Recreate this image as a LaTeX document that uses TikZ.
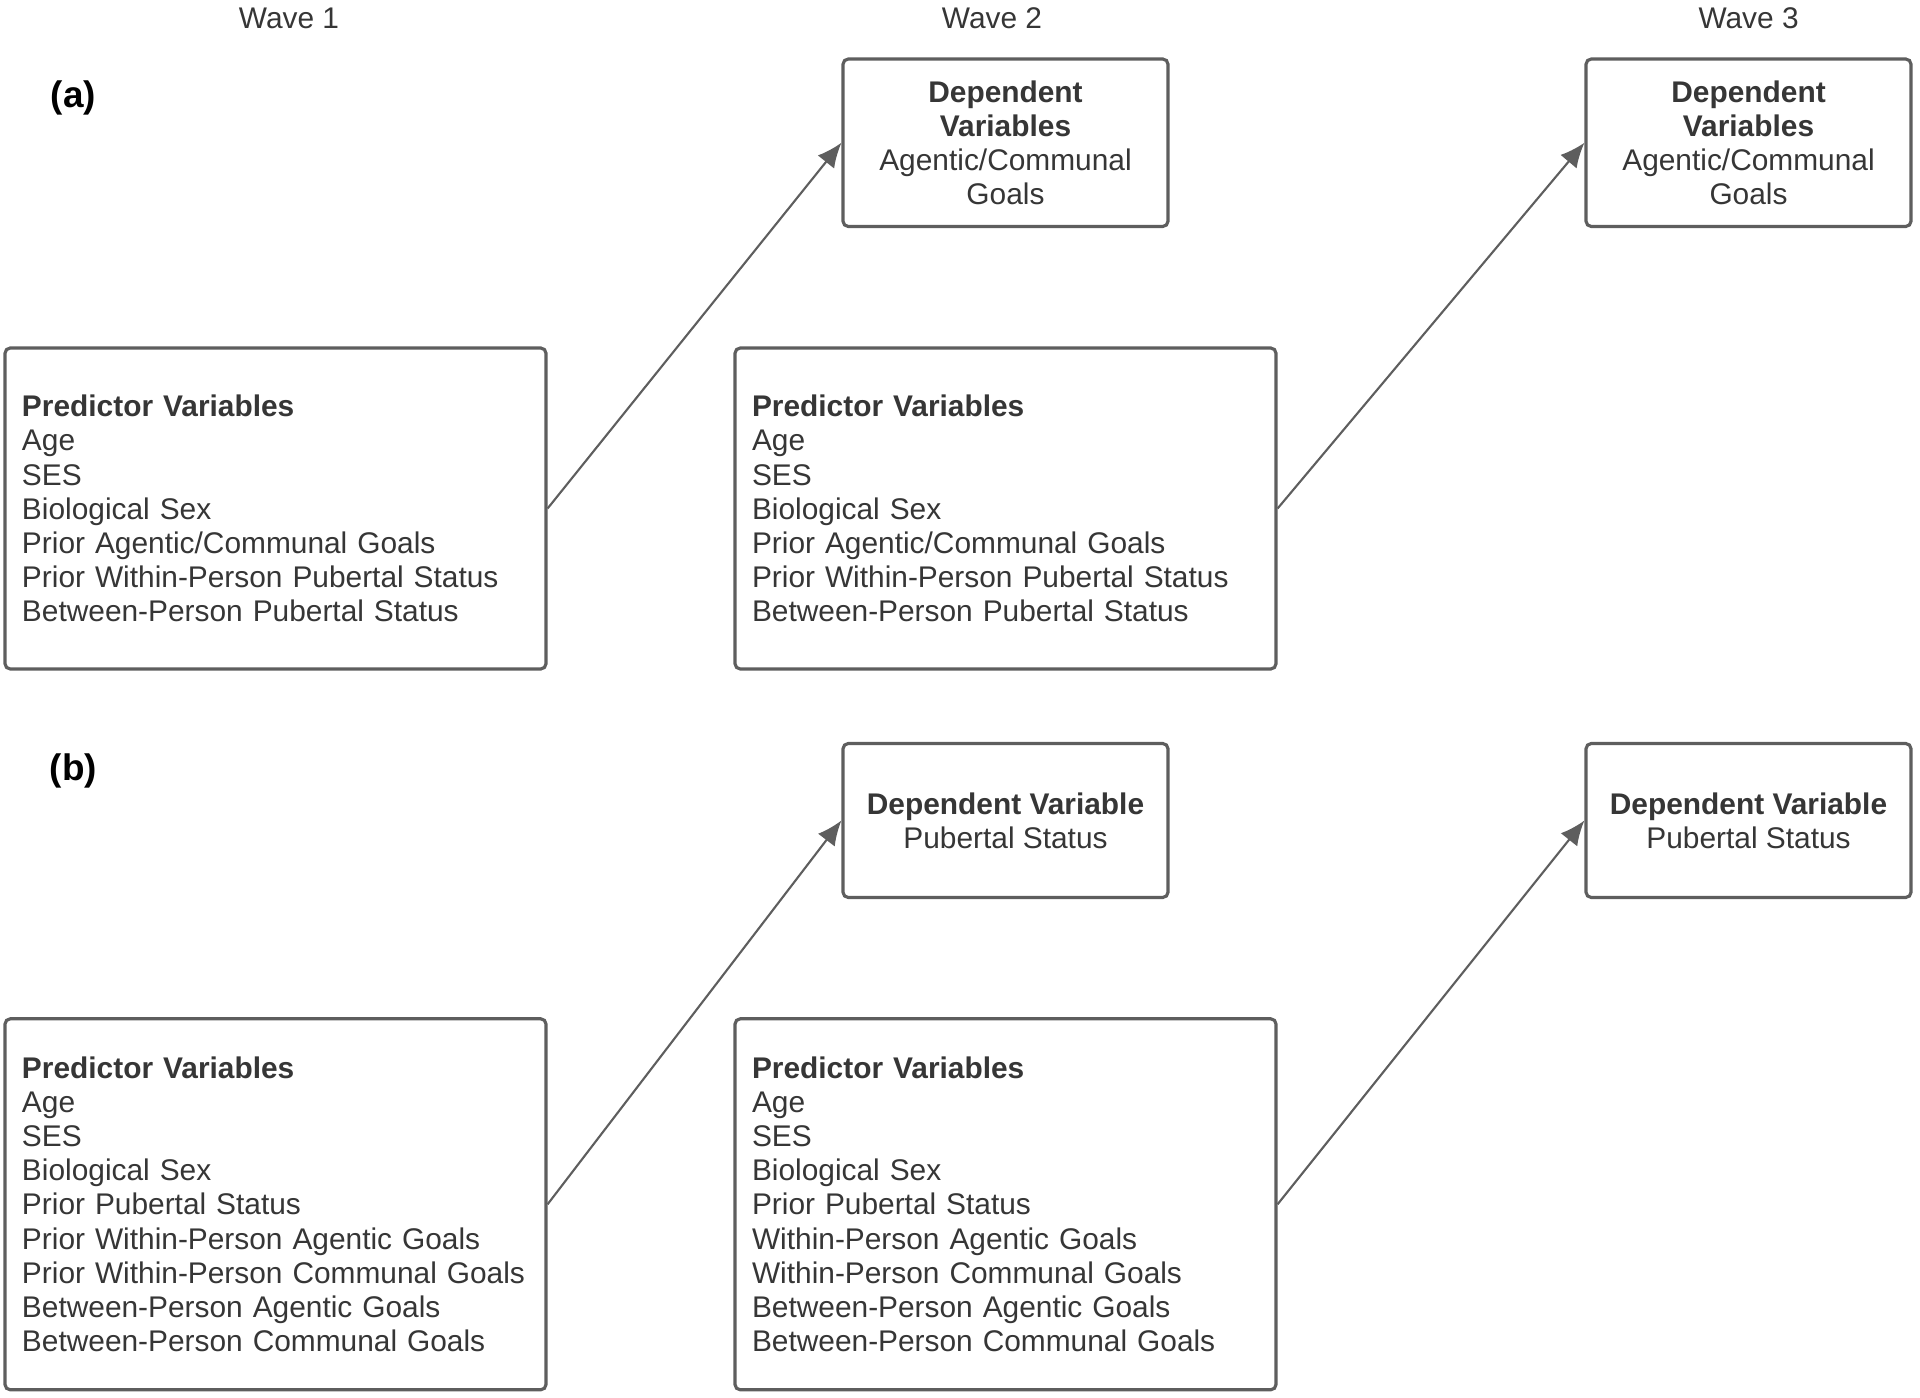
\documentclass[tikz,border=0pt]{standalone}
\usepackage{fontspec}
\setmainfont{Liberation Sans}
\usepackage{tikz}
\usetikzlibrary{positioning}
\usetikzlibrary{calc,arrows.meta}

\definecolor{boxgray}{HTML}{5E5E5E}
\definecolor{textgray}{HTML}{363636}

\begin{document}
\begin{tikzpicture}
	[   pnode/.style={draw=boxgray,line width=0.9pt,rounded corners=1.5pt,fill=white,text=textgray,align=left,text width=5.07cm,inner xsep=0.17cm,minimum height=#1},
	    dnode/.style={draw=boxgray,line width=0.9pt,rounded corners=1.5pt,fill=white,text=textgray,align=center,minimum width=3.25cm,minimum height=#1},
	    font=\fontsize{8.5pt}{9.7pt}\selectfont,
	]
	\tikzset{wave arrow/.style={draw=boxgray,line width=0.6pt,-{Latex[length=7pt,width=6pt]}}}
	\useasboundingbox (0,0) rectangle (19.2,-13.98);
	
	\foreach \x/\n in {2.89/1,9.92/2,17.486/3}
	{
		\node[text=textgray] (w-\n) at (\x,-0.184) {Wave \n};
	}
	
	\node[font=\fontsize{10.5pt}{12pt}\selectfont\bfseries] (lab-a) at (0.735,-0.98) {(a)};
	\node[font=\fontsize{10.5pt}{12pt}\selectfont\bfseries] (lab-b) at (0.735,-7.714) {(b)};
	
	% panel a
	\node[dnode=1.675cm] (da-2) at (10.055,-1.4275) {\textbf{Dependent}\\\textbf{Variables}\\Agentic/Communal\\Goals};
	\node[dnode=1.675cm] (da-3) at (17.485,-1.4275) {\textbf{Dependent}\\\textbf{Variables}\\Agentic/Communal\\Goals};
	
	\node[pnode=3.21cm] (pa-1) at (2.755,-5.085) {\textbf{Predictor Variables}\\Age\\SES\\Biological Sex\\Prior Agentic/Communal Goals\\Prior Within-Person Pubertal Status\\Between-Person Pubertal Status};
	\node[pnode=3.21cm] (pa-2) at (10.055,-5.085) {\textbf{Predictor Variables}\\Age\\SES\\Biological Sex\\Prior Agentic/Communal Goals\\Prior Within-Person Pubertal Status\\Between-Person Pubertal Status};
	
	% panel b
	\node[dnode=1.54cm] (db-2) at (10.055,-8.205) {\textbf{Dependent Variable}\\Pubertal Status};
	\node[dnode=1.54cm] (db-3) at (17.485,-8.205) {\textbf{Dependent Variable}\\Pubertal Status};
	
	\node[pnode=3.71cm] (pb-1) at (2.755,-12.043) {\textbf{Predictor Variables}\\Age\\SES\\Biological Sex\\Prior Pubertal Status\\Prior Within-Person Agentic Goals\\Prior Within-Person Communal Goals\\Between-Person Agentic Goals\\Between-Person Communal Goals};
	\node[pnode=3.71cm] (pb-2) at (10.055,-12.043) {\textbf{Predictor Variables}\\Age\\SES\\Biological Sex\\Prior Pubertal Status\\Within-Person Agentic Goals\\Within-Person Communal Goals\\Between-Person Agentic Goals\\Between-Person Communal Goals};
	
	\foreach \r in {a,b}
	{
		\path[wave arrow] (p\r-1.east) -- (d\r-2.west);
		\path[wave arrow] (p\r-2.east) -- (d\r-3.west);
	}
\end{tikzpicture}
\end{document}
